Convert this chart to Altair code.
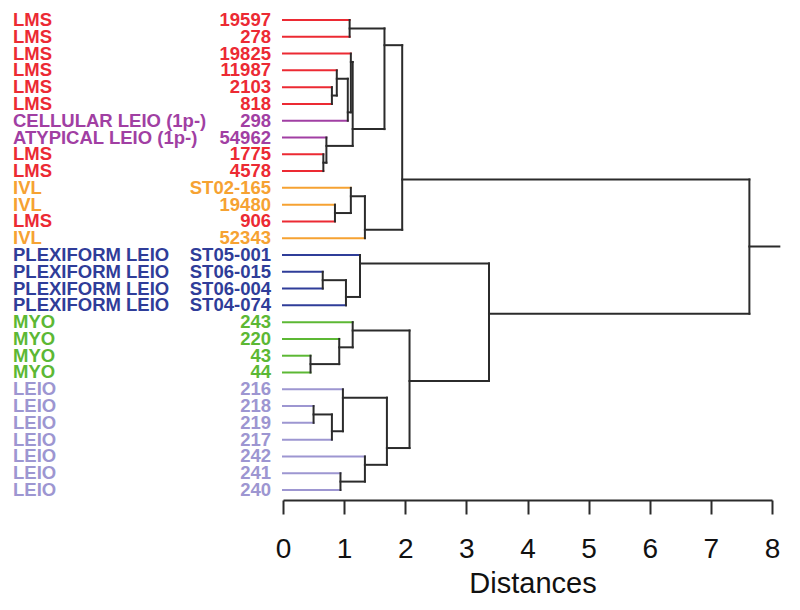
import altair as alt
import pandas as pd

# ---- leaves (top to bottom) ----
groups = ["LMS", "LMS", "LMS", "LMS", "LMS", "LMS",
          "CELLULAR LEIO (1p-)", "ATYPICAL LEIO (1p-)", "LMS", "LMS",
          "IVL", "IVL", "LMS", "IVL",
          "PLEXIFORM LEIO", "PLEXIFORM LEIO", "PLEXIFORM LEIO", "PLEXIFORM LEIO",
          "MYO", "MYO", "MYO", "MYO",
          "LEIO", "LEIO", "LEIO", "LEIO", "LEIO", "LEIO", "LEIO"]
sample_ids = ["19597", "278", "19825", "11987", "2103", "818", "298", "54962",
              "1775", "4578", "ST02-165", "19480", "906", "52343",
              "ST05-001", "ST06-015", "ST06-004", "ST04-074",
              "243", "220", "43", "44",
              "216", "218", "219", "217", "242", "241", "240"]
group_colors = {"LMS": "#ec2a33", "CELLULAR LEIO (1p-)": "#a13fa3",
                "ATYPICAL LEIO (1p-)": "#a13fa3", "IVL": "#f6a232",
                "PLEXIFORM LEIO": "#2f3d99", "MYO": "#5cb834", "LEIO": "#9d96d1"}

# ---- merges (linkage): left child, right child, distance ----
merge_left = ["2103", "11987", "m2", "19825", "1775", "54962", "m4", "19597", "m8",
              "19480", "ST02-165", "m11", "m9", "ST06-015", "m14", "ST05-001",
              "43", "220", "243", "218", "m20", "216", "241", "242", "m22", "m19",
              "m16", "m13"]
merge_right = ["818", "m1", "298", "m3", "4578", "m5", "m6", "278", "m7",
               "906", "m10", "52343", "m12", "ST06-004", "ST04-074", "m15",
               "44", "m17", "m18", "219", "217", "m21", "240", "m23", "m24", "m25",
               "m26", "m27"]
merge_height = [0.80, 0.88, 1.06, 1.11, 0.66, 0.71, 1.14, 1.09, 1.66,
                0.85, 1.11, 1.34, 1.95, 0.65, 1.03, 1.26,
                0.45, 0.92, 1.14, 0.50, 0.80, 0.98, 0.94, 1.34, 1.70, 2.07,
                3.37, 7.63]
root_stub_end = 8.12

TREE = "#2b2b2b"
FONT = "Liberation Sans"

# ---- layout of the tree ----
nodes = {}
for i, sid in enumerate(sample_ids):
    nodes[sid] = {"y": float(i), "h": 0.0, "leaves": [i], "color": group_colors[groups[i]]}

leaf_segs, tree_segs = [], []
for k, (l, r, h) in enumerate(zip(merge_left, merge_right, merge_height)):
    L, R = nodes[l], nodes[r]
    y = max(L["leaves"]) + 0.5
    tree_segs.append({"x": h, "x2": h, "y": L["y"], "y2": R["y"]})
    for c in (L, R):
        seg = {"x": c["h"], "x2": h, "y": c["y"], "y2": c["y"]}
        if c["h"] == 0.0:
            seg["c"] = c["color"]
            leaf_segs.append(seg)
        else:
            tree_segs.append(seg)
    nodes["m%d" % (k + 1)] = {"y": y, "h": h, "leaves": L["leaves"] + R["leaves"], "color": TREE}

root = nodes["m%d" % len(merge_height)]
tree_segs.append({"x": root["h"], "x2": root_stub_end, "y": root["y"], "y2": root["y"]})

leaf_df = pd.DataFrame(leaf_segs)
tree_df = pd.DataFrame(tree_segs)
label_df = pd.DataFrame({"idx": list(range(len(sample_ids))), "grp": groups, "sid": sample_ids,
                         "c": [group_colors[g] for g in groups]})

xscale = alt.Scale(domain=[0, 8], nice=False, zero=False)
yscale = alt.Scale(domain=[-0.596, 28.596], reverse=True, nice=False, zero=False)

xaxis = alt.Axis(values=list(range(9)), grid=False, orient="bottom",
                 domainColor=TREE, domainWidth=2, tickColor=TREE, tickWidth=2, tickSize=14,
                 labelFontSize=28, labelFont=FONT, labelColor="#111111", labelPadding=21,
                 labelFlush=False, labelOverlap=False,
                 title="Distances", titleFontSize=29, titleFont=FONT, titleFontWeight="normal",
                 titleColor="#111111", titlePadding=6, titleX=249.5)

leaf_rules = alt.Chart(leaf_df).mark_rule(strokeWidth=2, strokeCap="square").encode(
    x=alt.X("x:Q", scale=xscale, axis=xaxis),
    x2="x2:Q",
    y=alt.Y("y:Q", scale=yscale, axis=None),
    y2="y2:Q",
    color=alt.Color("c:N", scale=None),
)

tree_rules = alt.Chart(tree_df).mark_rule(strokeWidth=2, strokeCap="square", color=TREE).encode(
    x=alt.X("x:Q", scale=xscale, axis=xaxis),
    x2="x2:Q",
    y=alt.Y("y:Q", scale=yscale, axis=None),
    y2="y2:Q",
)

group_text = alt.Chart(label_df).mark_text(align="left", baseline="middle", font=FONT,
                                           fontSize=18.5, fontWeight="bold").encode(
    x=alt.value(-270),
    y=alt.Y("idx:Q", scale=yscale, axis=None),
    text="grp:N",
    color=alt.Color("c:N", scale=None),
)

id_text = alt.Chart(label_df).mark_text(align="right", baseline="middle", font=FONT,
                                        fontSize=18.5, fontWeight="bold").encode(
    x=alt.value(-12),
    y=alt.Y("idx:Q", scale=yscale, axis=None),
    text="sid:N",
    color=alt.Color("c:N", scale=None),
)

chart = alt.layer(leaf_rules, tree_rules, group_text, id_text).properties(
    width=489, height=490,
    padding={"left": 275, "top": 2, "right": 20, "bottom": 100},
    autosize=alt.AutoSizeParams(type="none"),
).configure_view(stroke=None)

chart.save("out.html", embed_options={"renderer": "svg", "actions": False})
